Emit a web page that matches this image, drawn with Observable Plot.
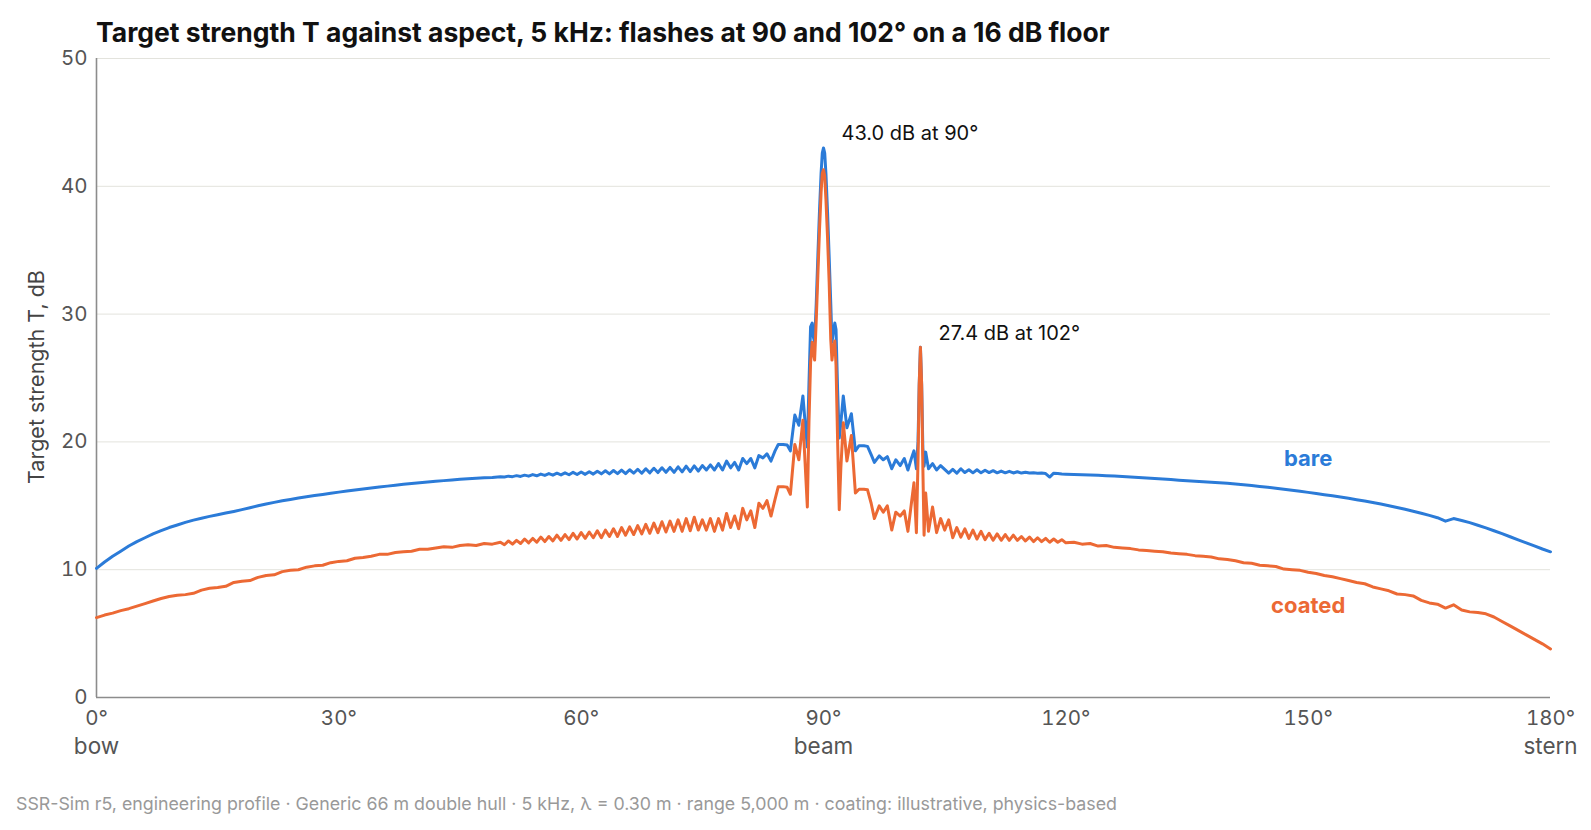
<!DOCTYPE html>
<html><head><meta charset="utf-8">
<script src="https://cdn.jsdelivr.net/npm/d3@7"></script>
<script src="https://cdn.jsdelivr.net/npm/@observablehq/plot@0.6"></script>
<style>
body{margin:0;background:#fff;font-family:Inter,"Noto Sans",sans-serif;}
#wrap{position:relative;width:1591px;height:830px;overflow:hidden;}
#title{position:absolute;left:96px;top:16px;font-size:26.5px;font-weight:700;color:#111;white-space:nowrap;}
#chart{position:absolute;left:0;top:48px;}
#caption{position:absolute;left:16px;top:793px;font-size:17.8px;color:#999;white-space:nowrap;}
</style></head>
<body>
<div id="wrap">
<div id="title">Target strength T against aspect, 5 kHz: flashes at 90 and 102° on a 16 dB floor</div>
<div id="chart"></div>
<div id="caption">SSR-Sim r5, engineering profile · Generic 66 m double hull · 5 kHz, λ = 0.30 m · range 5,000 m · coating: illustrative, physics-based</div>
</div>
<script>
// aspect angle, degrees
const aspect = [
 0,1,2,3,4,5,6,7,8,9,
 10,11,12,13,14,15,16,17,18,19,
 20,21,22,23,24,25,26,27,28,29,
 30,31,32,33,34,35,36,37,38,39,
 40,41,42,43,44,45,46,47,48,49,
 50,50.5,51,51.5,52,52.5,53,53.5,54,54.5,
 55,55.5,56,56.5,57,57.5,58,58.5,59,59.5,
 60,60.5,61,61.5,62,62.5,63,63.5,64,64.5,
 65,65.5,66,66.5,67,67.5,68,68.5,69,69.5,
 70,70.5,71,71.5,72,72.5,73,73.5,74,74.5,
 75,75.5,76,76.5,77,77.5,78,78.5,79,79.5,
 80,80.5,81,81.5,82,82.5,83,83.5,
 84,84.4,85,85.5,85.9,86.45,86.95,87.45,87.75,88.0,
 88.2,88.4,88.6,88.75,88.9,89.1,89.3,89.5,89.7,89.85,
 90.0,90.15,90.3,90.5,90.7,90.9,91.05,91.2,91.4,91.55,
 91.75,91.95,92.15,92.45,
 92.9,93.45,93.95,94.4,95.0,95.45,95.9,96.3,96.9,97.4,
 97.9,98.45,98.95,99.5,100.0,100.45,100.9,101.2,101.5,101.7,
 101.85,102.0,102.15,102.3,102.45,102.65,
 103,103.5,104,104.5,105,105.5,106,106.5,107,107.5,
 108,108.5,109,109.5,110,110.5,111,111.5,112,112.5,
 113,113.5,114,114.5,115,115.5,116,116.5,117,117.5,
 118,118.5,119,119.5,120,
 121,122,123,124,125,126,127,128,129,130,
 131,132,133,134,135,136,137,138,139,140,
 141,142,143,144,145,146,147,148,149,150,
 151,152,153,154,155,156,157,158,159,160,
 161,162,163,164,165,166,167,168,169,170,
 171,172,173,174,175,176,177,178,179,180
];
// bare hull target strength, dB
const bare = [
 10.1,10.6,11.05,11.45,11.85,12.2,12.5,12.8,13.05,13.3,
 13.5,13.7,13.88,14.03,14.17,14.3,14.43,14.56,14.7,14.85,
 15.0,15.14,15.27,15.39,15.5,15.61,15.71,15.8,15.89,15.98,
 16.07,16.15,16.23,16.31,16.39,16.47,16.54,16.61,16.68,16.74,
 16.8,16.86,16.92,16.97,17.02,17.07,17.11,17.15,17.19,17.22,
 17.28,17.25,17.32,17.28,17.36,17.3,17.4,17.32,17.44,17.35,
 17.48,17.38,17.52,17.4,17.55,17.42,17.58,17.43,17.62,17.45,
 17.64,17.46,17.67,17.48,17.7,17.5,17.74,17.5,17.76,17.52,
 17.8,17.52,17.82,17.55,17.86,17.55,17.9,17.58,17.94,17.6,
 17.98,17.62,18.0,17.62,18.05,17.65,18.1,17.68,18.12,17.72,
 18.15,17.8,18.2,17.8,18.3,17.8,18.5,17.97,18.4,17.8,
 18.7,18.3,18.7,17.97,18.93,18.75,19.07,18.5,
 19.3,19.8,19.8,19.75,19.3,22.1,21.3,23.6,21.3,19.6,
 24.5,29.0,29.3,28.2,27.8,30.8,34.5,38.0,41.0,42.6,
 43.0,42.6,41.0,38.0,34.5,30.8,27.8,28.5,29.3,28.8,
 24.0,20.3,21.5,23.6,
 21.1,22.2,19.3,19.7,19.7,19.65,19.0,18.4,18.9,18.6,
 18.85,17.9,18.6,18.15,18.7,17.8,18.75,19.3,17.9,20.0,
 24.5,27.4,24.5,19.5,18.1,19.2,
 17.9,18.3,17.8,18.15,17.85,17.55,17.85,17.55,17.9,17.6,
 17.82,17.58,17.82,17.58,17.78,17.6,17.75,17.58,17.72,17.58,
 17.7,17.57,17.66,17.56,17.62,17.56,17.58,17.55,17.56,17.52,
 17.25,17.55,17.52,17.48,17.47,
 17.45,17.43,17.41,17.39,17.36,17.33,17.3,17.26,17.22,17.18,
 17.14,17.1,17.05,17.0,16.96,16.92,16.88,16.84,16.8,16.76,
 16.7,16.64,16.58,16.51,16.45,16.37,16.29,16.21,16.13,16.05,
 15.96,15.87,15.78,15.69,15.59,15.48,15.37,15.26,15.14,15.01,
 14.87,14.73,14.58,14.42,14.25,14.07,13.8,14.0,13.85,13.68,
 13.48,13.27,13.05,12.82,12.58,12.34,12.1,11.86,11.62,11.4
];
// coated hull target strength, dB
const coated = [
 6.25,6.45,6.6,6.8,6.95,7.15,7.35,7.55,7.75,7.9,
 8.0,8.05,8.15,8.4,8.55,8.6,8.7,9.0,9.1,9.15,
 9.4,9.55,9.6,9.85,9.95,10.0,10.2,10.3,10.35,10.55,
 10.65,10.7,10.9,10.95,11.05,11.2,11.2,11.35,11.4,11.45,
 11.6,11.6,11.7,11.8,11.75,11.9,11.95,11.9,12.05,12.0,
 12.15,11.95,12.25,12.0,12.3,12.05,12.4,12.1,12.45,12.15,
 12.55,12.2,12.6,12.25,12.7,12.3,12.75,12.35,12.85,12.4,
 12.9,12.45,12.95,12.5,13.05,12.5,13.1,12.6,13.2,12.6,
 13.3,12.7,13.35,12.75,13.45,12.8,13.55,12.85,13.65,12.9,
 13.75,12.95,13.8,13.0,13.9,13.0,14.0,13.05,14.1,13.1,
 13.9,13.1,14.0,13.0,14.0,13.1,14.4,13.3,14.2,13.2,
 14.8,13.9,14.6,13.3,15.2,14.8,15.4,14.2,
 15.5,16.5,16.5,16.45,15.9,19.8,18.6,21.7,18.0,14.9,
 21.5,26.2,27.8,27.0,26.4,29.5,33.0,36.5,39.5,41.0,
 41.3,40.8,39.0,36.0,32.5,28.0,26.4,27.3,27.9,26.0,
 20.0,14.7,18.0,21.5,
 18.5,20.5,16.0,16.3,16.3,16.25,15.2,14.0,15.0,14.5,
 15.0,13.1,14.5,14.2,14.6,13.0,15.3,16.8,12.9,18.5,
 24.5,27.4,24.5,18.0,12.7,16.0,
 13.0,14.9,12.9,14.0,13.1,13.9,12.5,13.3,12.55,13.2,
 12.45,13.1,12.4,13.0,12.35,12.85,12.3,12.8,12.3,12.75,
 12.3,12.7,12.3,12.6,12.25,12.55,12.2,12.5,12.2,12.45,
 12.15,12.4,12.15,12.35,12.1,
 12.15,12.0,12.05,11.85,11.9,11.75,11.7,11.65,11.55,11.5,
 11.45,11.4,11.3,11.25,11.2,11.1,11.05,11.0,10.85,10.8,
 10.7,10.55,10.5,10.35,10.3,10.25,10.05,10.0,9.95,9.8,
 9.7,9.55,9.45,9.3,9.15,9.0,8.9,8.65,8.5,8.35,
 8.1,8.05,7.95,7.6,7.4,7.3,7.0,7.25,6.85,6.7,
 6.65,6.55,6.3,5.95,5.6,5.25,4.9,4.55,4.2,3.8
];
const yTicks = [0, 10, 20, 30, 40, 50];
const xTicks = [0, 30, 60, 90, 120, 150, 180];
const landmarkAspect = [0, 90, 180];
const landmarkName = ["bow", "beam", "stern"];
const seriesName = ["bare", "coated"];
const seriesColor = ["#2b7bd8", "#ec6934"];
const seriesLabelAspect = 150;
const yLabel = "Target strength T, dB";

const rows = aspect.map((a, i) => ({aspect: a, bare: bare[i], coated: coated[i]}));
const main = rows[d3.maxIndex(rows, r => r.bare)];
const aft = rows.filter(r => r.aspect > 95);
const second = aft[d3.maxIndex(aft, r => r.bare)];
const flashes = [main, second].map(r => ({aspect: r.aspect, value: r.bare,
  text: `${r.bare.toFixed(1)} dB at ${Math.round(r.aspect)}°`}));
const at = rows.find(r => r.aspect === seriesLabelAspect);

const chart = Plot.plot({
  width: 1591, height: 730,
  marginTop: 10, marginRight: 41, marginBottom: 81, marginLeft: 96,
  style: {fontFamily: "Inter, 'Noto Sans', sans-serif", background: "transparent", overflow: "visible"},
  x: {domain: [0, 180]},
  y: {domain: [0, 50]},
  marks: [
    Plot.gridY(yTicks, {stroke: "#e3e3dd", strokeOpacity: 1, strokeWidth: 1}),
    Plot.axisY(yTicks, {tickSize: 0, tickPadding: 9, fontSize: 20.5, color: "#555", label: null}),
    Plot.axisX(xTicks, {tickSize: 0, tickPadding: 13, fontSize: 20.5, color: "#555", label: null, tickFormat: d => `${d}°`}),
    Plot.text(landmarkName, {x: (d, i) => landmarkAspect[i], frameAnchor: "bottom", lineAnchor: "middle", dy: 49, fontSize: 22.5, fill: "#555", text: d => d}),
    Plot.text([yLabel], {frameAnchor: "left", textAnchor: "middle", rotate: -90, dx: -59, dy: -1, fontSize: 21.5, fill: "#444", text: d => d}),
    Plot.ruleY([0], {stroke: "#8c8c8c", strokeWidth: 1.6}),
    Plot.ruleX([0], {stroke: "#8c8c8c", strokeWidth: 1.6}),
    Plot.lineY(rows, {x: "aspect", y: "bare", stroke: seriesColor[0], strokeWidth: 3}),
    Plot.lineY(rows, {x: "aspect", y: "coated", stroke: seriesColor[1], strokeWidth: 3}),
    Plot.text(flashes, {x: "aspect", y: "value", text: "text", textAnchor: "start", dx: 18, dy: -14, fontSize: 20, fill: "#111"}),
    Plot.text([at], {x: "aspect", y: "bare", text: () => seriesName[0], fill: seriesColor[0], fontWeight: 700, fontSize: 22, dy: -33}),
    Plot.text([at], {x: "aspect", y: "coated", text: () => seriesName[1], fill: seriesColor[1], fontWeight: 700, fontSize: 22, dy: 34})
  ]
});
document.getElementById("chart").appendChild(chart);
</script>
</body></html>
